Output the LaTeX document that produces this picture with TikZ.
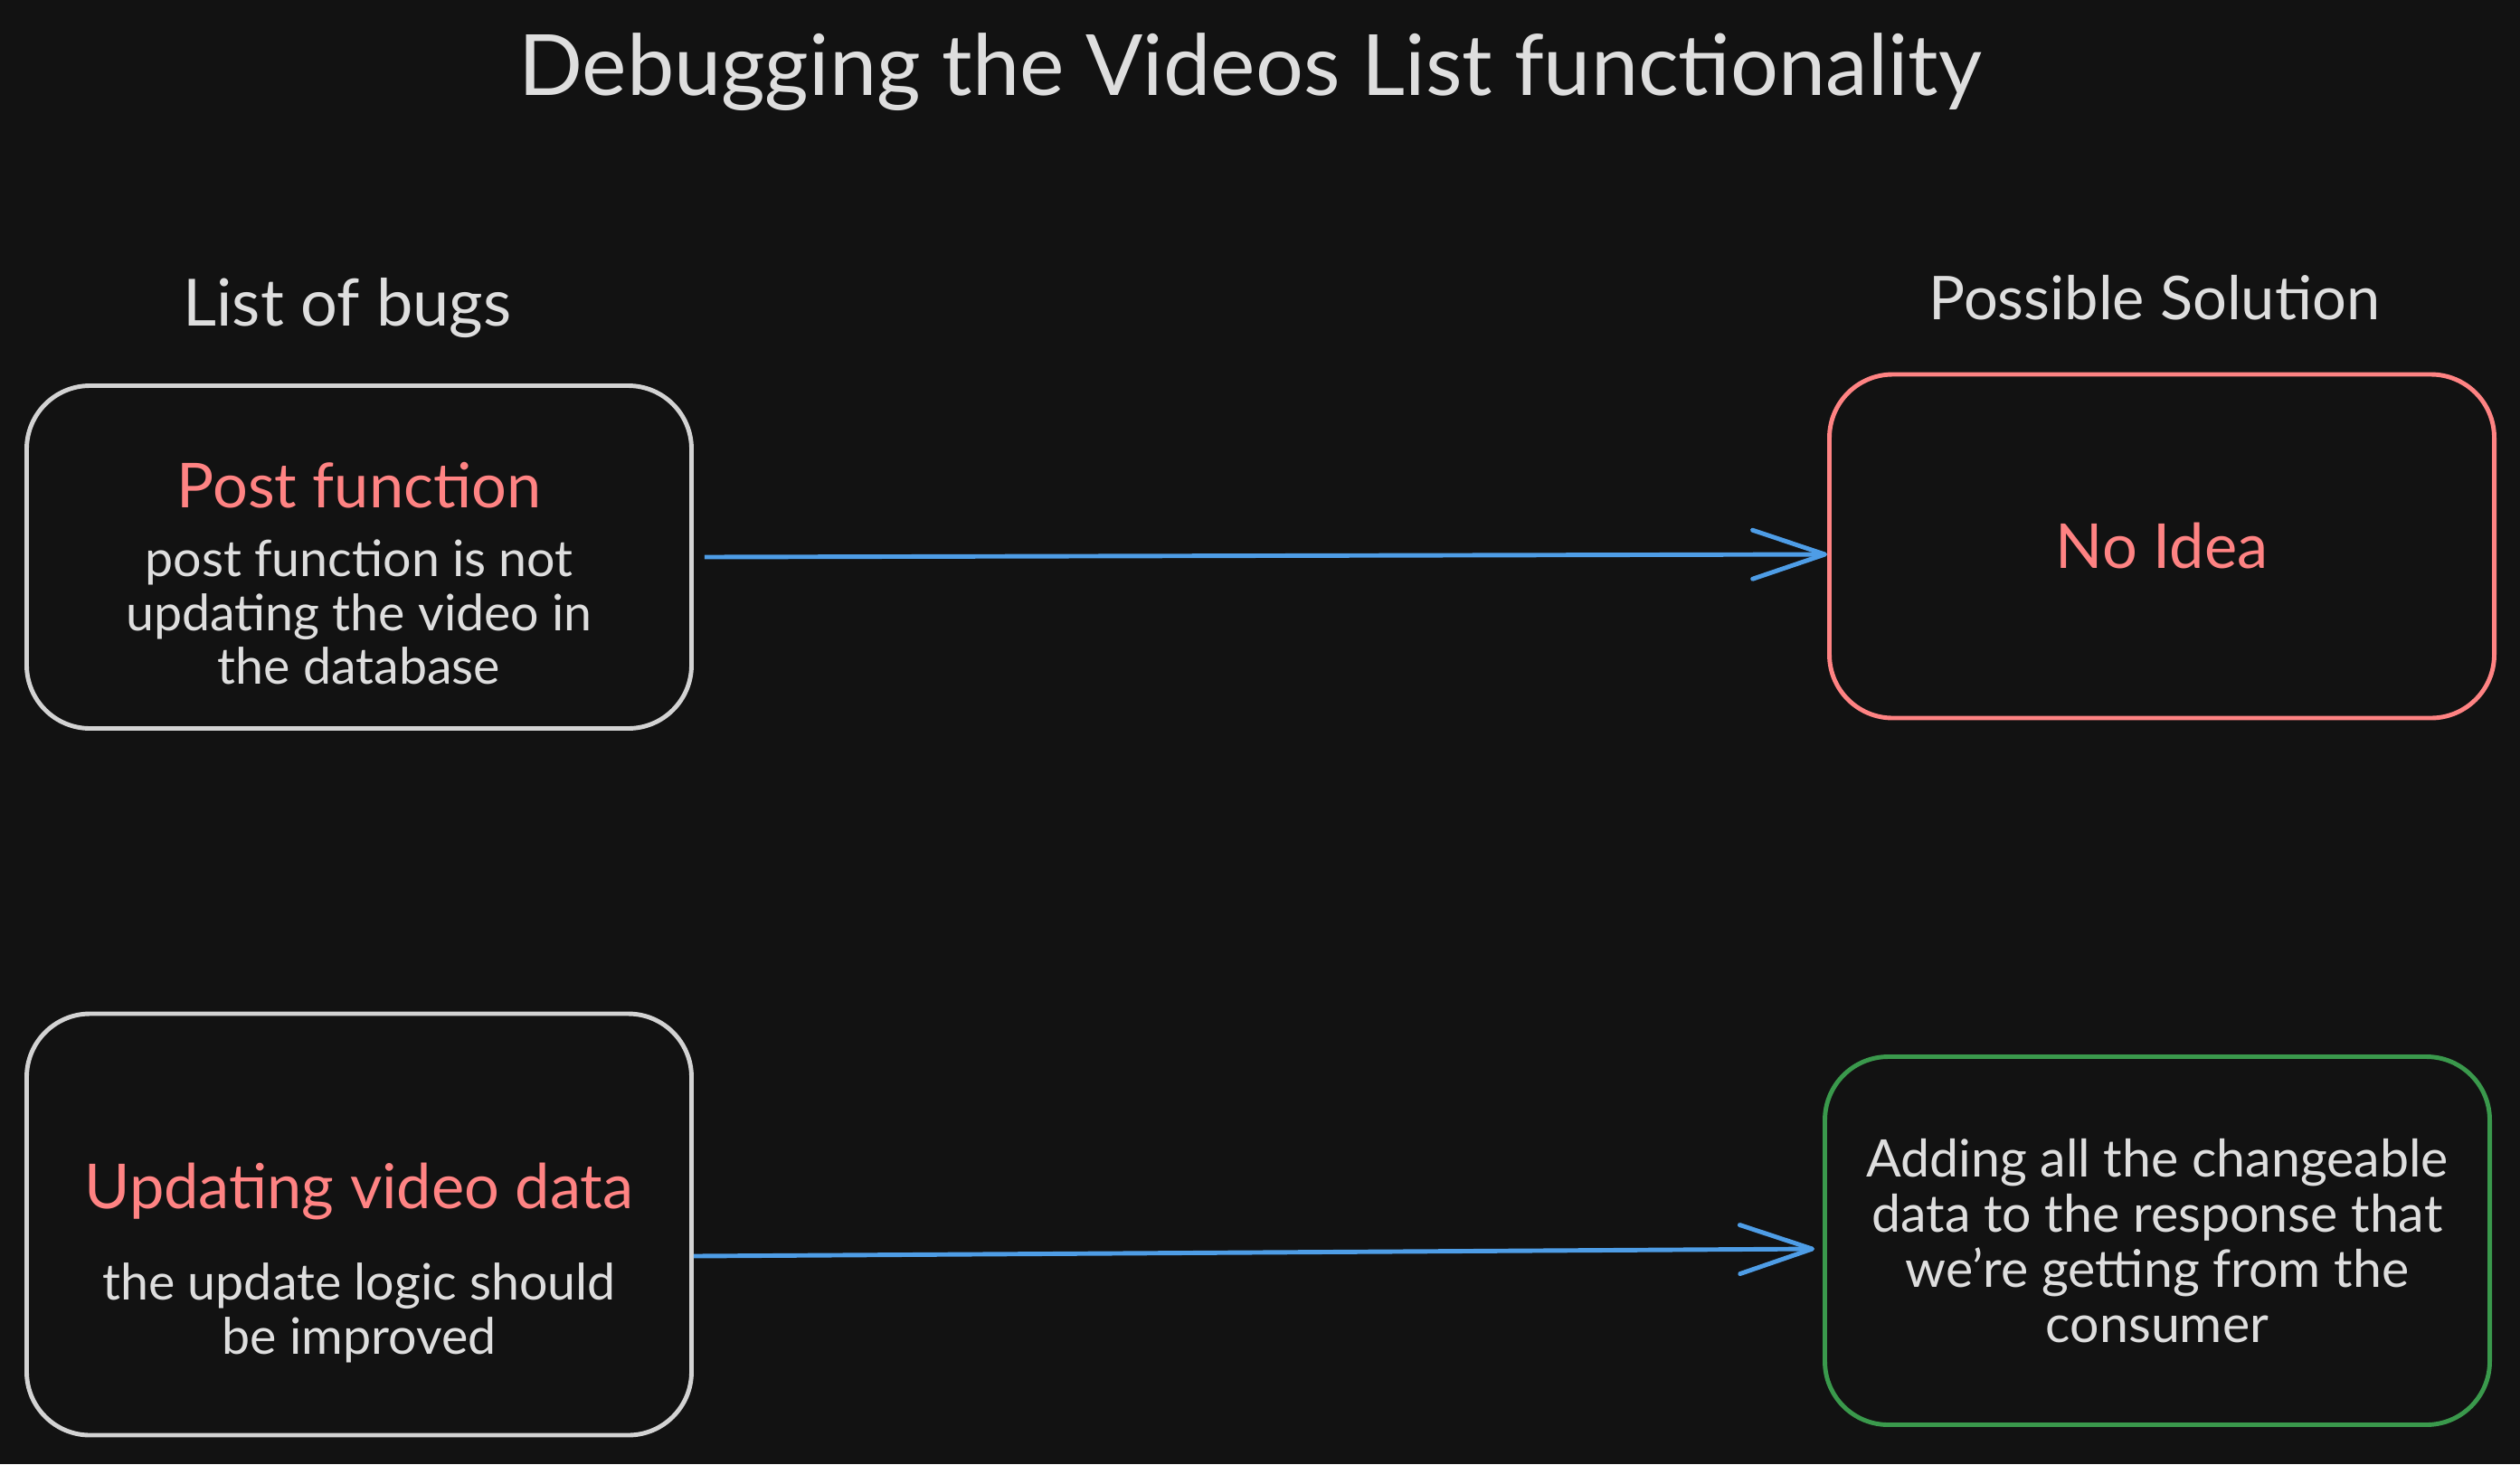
\documentclass[tikz,border=0pt]{standalone}
\usepackage{fontspec}
\setmainfont{Lato}
\usepackage{xcolor}
\usepackage{tikz}
\usetikzlibrary{arrows.meta,positioning}
\definecolor{canvas}{HTML}{121212}
\definecolor{ink}{HTML}{DEDEDE}
\definecolor{frame}{HTML}{D3D3D3}
\definecolor{bug}{HTML}{FF8383}
\definecolor{fix}{HTML}{3A994C}
\definecolor{link}{HTML}{4E9DE6}

\begin{document}
\begin{tikzpicture}[font=\fontsize{15.8}{17}\selectfont, text=ink,
  card/.style={draw=#1, line width=1.4pt, rounded corners=7mm, minimum width=7.35cm, align=center},
  bugtitle/.style={text=bug, font=\fontsize{19.5}{22}\selectfont},
  flow/.style={draw=link, line width=1.4pt, -{Straight Barb[length=8mm, width=5.4mm, round]}}]
  \fill[canvas] (0,0) rectangle (27.86,-16.19);
  \useasboundingbox (0,0) rectangle (27.86,-16.19);

  \node[font=\fontsize{26.6}{30}\selectfont] (title) at (13.82,-0.80)
    {Debugging the Videos List functionality};
  \node[font=\fontsize{20.5}{24}\selectfont] (bugs) at (3.84,-3.41) {List of bugs};
  \node[font=\fontsize{19}{23}\selectfont] (fixes) at (23.82,-3.29) {Possible Solution};

  % bugs
  \node[card=frame, minimum height=3.79cm] (bug1) at (3.97,-6.16) {};
  \node[bugtitle] (bug1t) at ([yshift=7.9mm]bug1.center) {Post function};
  \node[align=center] (bug1b) at ([yshift=-6.1mm]bug1.center)
    {post function is not\\ updating the video in\\ the database};
  \node[card=frame, minimum height=4.66cm] (bug2) at (3.97,-13.54) {};
  \node[bugtitle] (bug2t) at ([yshift=3.7mm]bug2.center) {Updating video data};
  \node[align=center] (bug2b) at ([yshift=-9.8mm]bug2.center)
    {the update logic should\\ be improved};

  % solutions
  \node[card=bug, minimum height=3.80cm, bugtitle] (sol1) at (23.90,-6.04) {No Idea};
  \node[card=fix, minimum height=4.07cm, font=\fontsize{16.3}{17.3}\selectfont] (sol2) at (23.85,-13.72)
    {Adding all the changeable\\ data to the response that\\ we're getting from the\\ consumer};

  \draw[flow] ([xshift=1.2mm]bug1.east) -- ([yshift=-0.9mm]sol1.west);
  \draw[flow] ([yshift=-3.5mm]bug2.east) -- ([xshift=-0.9mm, yshift=-0.9mm]sol2.west);
\end{tikzpicture}
\end{document}
